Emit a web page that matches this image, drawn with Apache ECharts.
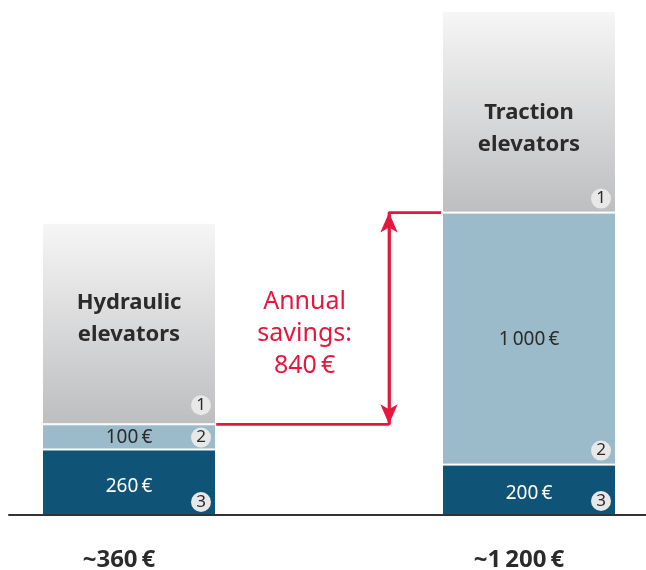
<!DOCTYPE html>
<html>
<head>
<meta charset="utf-8">
<title>Hydraulic vs traction elevators</title>
<script src="https://cdn.jsdelivr.net/npm/echarts@6/dist/echarts.min.js"></script>
<style>
  html, body { margin: 0; padding: 0; background: #fff; }
  #chart { width: 646px; height: 570px; }
</style>
</head>
<body>
<div id="chart"></div>
<script>
// elevator types, left to right
const categories = ['Hydraulic\nelevators', 'Traction\nelevators'];
// annual cost parts in €
const costPart3 = [260, 200];    // dark segment (bottom)
const costPart2 = [100, 1000];   // light segment
const headerBlock = [800, 800];  // grey title block on top
const badgeNumbers = ['1', '2', '3'];

const totals = costPart3.map((v, i) => v + costPart2[i]);
const savings = totals[1] - totals[0];

// the x axis is cut into 8 slots of 80px, the two bars sit in slots 1 and 6
const slotCount = 8;
const barSlots = [1, 6];
const slotNames = Array.from({ length: slotCount }, (_, k) => {
  const i = barSlots.indexOf(k);
  return i < 0 ? '' : categories[i];
});
const slotValues = arr => slotNames.map((_, k) => {
  const i = barSlots.indexOf(k);
  return i < 0 ? null : arr[i];
});

const DARK = '#0f5477';
const LIGHT = '#9bbbca';
const RED = '#e5173f';
const TEXT = '#2b2b2b';

// savings bracket, in slot units
const bracketStartX = 2.09;
const bracketArrowX = 4.25;
const bracketEndX = 4.9;
const savingsTextX = 3.195;

// px above the bottom of each segment: [badge1, badge2, badge3]
const badgeLift = [[19, 12, 13], [14, 14, 14]];

function euro(v) {
  const s = String(v).replace(/\B(?=(\d{3})+(?!\d))/g, '\u2009');
  return s + '\u2009€';
}

const chart = echarts.init(document.getElementById('chart'));

const badgeData = [];
barSlots.forEach((x, i) => {
  const bottoms = [totals[i], costPart3[i], 0];
  bottoms.forEach((b, k) => {
    badgeData.push({
      value: [x, b],
      name: badgeNumbers[k],
      symbolOffset: [72, -badgeLift[i][k]]
    });
  });
});

const option = {
  animation: false,
  grid: { left: 9, right: -3, top: 11, bottom: 55, outerBoundsMode: 'none' },
  xAxis: [
    {
      type: 'category',
      data: slotNames,
      z: 10,
      axisTick: { show: false },
      axisLine: { show: true, lineStyle: { color: '#333', width: 2 } },
      axisLabel: {
        interval: 0,
        formatter: (v, idx) => {
          const i = barSlots.indexOf(idx);
          return i < 0 ? '' : '~' + euro(totals[i]);
        },
        fontFamily: 'Noto Sans',
        fontWeight: 'bold',
        fontSize: 24,
        color: TEXT,
        margin: 33,
        padding: [0, 20, 0, 0]
      }
    },
    {
      type: 'value',
      min: -0.5,
      max: slotCount - 0.5,
      show: false
    }
  ],
  yAxis: { type: 'value', min: 0, max: 2000, show: false },
  series: [
    {
      type: 'bar',
      stack: 'cost',
      barWidth: 174,
      data: slotValues(costPart3),
      itemStyle: { color: DARK, borderColor: '#fff', borderWidth: 1 },
      label: {
        show: true, position: 'inside', offset: [0, 4],
        fontFamily: 'Noto Sans', fontSize: 19, color: '#fff',
        formatter: p => euro(p.value)
      }
    },
    {
      type: 'bar',
      stack: 'cost',
      barWidth: 174,
      data: slotValues(costPart2),
      itemStyle: { color: LIGHT, borderColor: '#fff', borderWidth: 1 },
      label: {
        show: true, position: 'inside', offset: [0, 1],
        fontFamily: 'Noto Sans', fontSize: 19, color: TEXT,
        formatter: p => euro(p.value)
      }
    },
    {
      type: 'bar',
      stack: 'cost',
      barWidth: 174,
      data: slotNames.map((_, k) => {
        const i = barSlots.indexOf(k);
        if (i < 0) return null;
        return { value: headerBlock[i], label: { offset: i === 0 ? [0, -5] : [0, 17] } };
      }),
      itemStyle: {
        borderColor: '#fff', borderWidth: 1,
        color: new echarts.graphic.LinearGradient(0, 0, 0, 1, [
          { offset: 0, color: '#f6f6f6' },
          { offset: 1, color: '#bdbec0' }
        ])
      },
      label: {
        show: true, position: 'inside',
        fontFamily: 'Noto Sans', fontWeight: 'bold', fontSize: 22,
        lineHeight: 32, color: TEXT,
        formatter: p => p.name
      }
    },
    {
      // numbered badges
      type: 'scatter',
      xAxisIndex: 1,
      symbol: 'circle',
      symbolSize: 20,
      data: badgeData,
      itemStyle: { color: '#e8e8e8', opacity: 1 },
      label: {
        show: true, position: 'inside',
        fontFamily: 'Noto Sans', fontSize: 17, color: TEXT,
        formatter: p => p.name
      },
      z: 5
    },
    {
      // savings bracket
      type: 'line',
      xAxisIndex: 1,
      data: [
        [bracketStartX, totals[0]],
        [bracketArrowX, totals[0]],
        [bracketArrowX, totals[1]],
        [bracketEndX, totals[1]]
      ],
      showSymbol: false,
      lineStyle: { color: RED, width: 2.7 },
      z: 4,
      markLine: {
        silent: true,
        symbol: ['arrow', 'arrow'],
        symbolSize: [13, 20],
        lineStyle: { color: RED, width: 2.7, type: 'solid' },
        label: { show: false },
        data: [[
          { coord: [bracketArrowX, totals[0]] },
          { coord: [bracketArrowX, totals[1]] }
        ]]
      },
      markPoint: {
        symbol: 'circle',
        symbolSize: 1,
        itemStyle: { color: 'transparent' },
        label: {
          show: true, position: 'inside', offset: [0, 15],
          fontFamily: 'Noto Sans', fontSize: 25, lineHeight: 32, color: RED,
          formatter: () => 'Annual\nsavings:\n' + euro(savings)
        },
        data: [{ coord: [savingsTextX, (totals[0] + totals[1]) / 2] }]
      }
    }
  ]
};

chart.setOption(option);
</script>
</body>
</html>
